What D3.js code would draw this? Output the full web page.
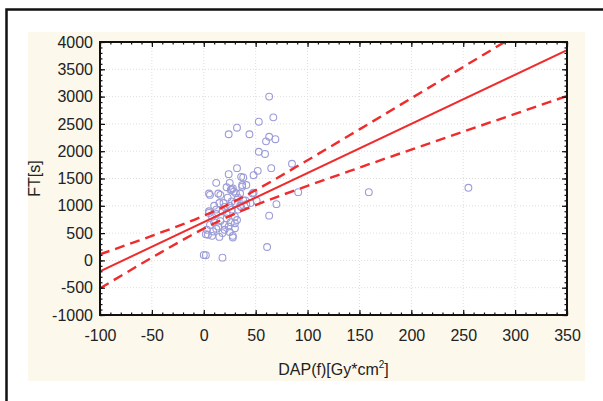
<!DOCTYPE html>
<html><head><meta charset="utf-8">
<script src="https://cdn.jsdelivr.net/npm/d3@7/dist/d3.min.js"></script>
<style>body{margin:0;background:#fff}svg{display:block}</style>
</head><body>
<script>
// ---- data ----
const xTicks = [-100,-50,0,50,100,150,200,250,300,350];
const yTicks = [-1000,-500,0,500,1000,1500,2000,2500,3000,3500,4000];
const xLabel = "DAP(f)[Gy*cm";
const yLabel = "FT[s]";
const pointsX = [63,67,53,32,24,44,63,69,60,53,59,32,65,85,52,48,24,36,38,37,41,12,25,22,27,28,5,14,48,91,159,255,70,41,63,61,2,0,18,28,28,26,35,16,6,19,27,12,5,18,27,33,8,22,32,6,14,24,30,9,18,4,10,15,20,25,30,35,38,22,12,16,26,30,20,10,3,12,20,25,8,15,36,40,45,33,23,30,5,2,29,31,51,47,37];
const pointsY = [3000,2620,2540,2430,2310,2310,2265,2220,2180,1990,1950,1690,1690,1770,1640,1560,1580,1530,1520,1380,1380,1420,1420,1340,1300,1320,1225,1225,1240,1250,1250,1330,1030,1030,820,245,95,100,50,420,450,1290,1225,1200,1200,1050,1080,930,900,900,930,930,800,770,740,650,620,620,590,530,500,470,1000,1050,980,1000,1050,1000,1100,870,850,720,700,800,650,700,560,580,560,520,450,430,980,1100,1050,1150,1150,680,870,480,1260,1230,1090,1225,1350];
const fitX = [-100, 350];
const fitY = [-200, 3850];
const ciX = [-100,-50,0,17,50,100,150,200,250,300,350];
const ciUpper = [112,450,818,963,1287,1835,2400,2970,3543,4116,4690];
const ciLower = [-512,50,582,743,1013,1365,1700,2030,2357,2684,3010];

// ---- drawing ----
const W=603,H=401;
const svg=d3.select("body").append("svg").attr("width",W).attr("height",H);
svg.append("rect").attr("x",6.5).attr("y",9.5).attr("width",700).attr("height",500)
  .attr("fill","none").attr("stroke","#111").attr("stroke-width",2.5);
svg.append("rect").attr("x",28).attr("y",32).attr("width",557).attr("height",349).attr("fill","#fcf8ec");

const L=100,R=567,T=42,B=315;
const x=d3.scaleLinear().domain([-100,350]).range([L,R]);
const y=d3.scaleLinear().domain([-1000,4000]).range([B,T]);

svg.append("rect").attr("x",L).attr("y",T).attr("width",R-L).attr("height",B-T).attr("fill","#fff");

// grid
const grid=svg.append("g").attr("stroke","#dedede").attr("stroke-dasharray","1,2").attr("stroke-width",1);
grid.selectAll(".gx").data(xTicks.slice(1,-1)).join("line")
  .attr("x1",d=>x(d)).attr("x2",d=>x(d)).attr("y1",T).attr("y2",B);
grid.selectAll(".gy").data(yTicks.slice(1,-1)).join("line")
  .attr("y1",d=>y(d)).attr("y2",d=>y(d)).attr("x1",L).attr("x2",R);

// clip
svg.append("clipPath").attr("id","clip").append("rect").attr("x",L).attr("y",T).attr("width",R-L).attr("height",B-T);

// points
svg.append("g").attr("clip-path","url(#clip)").selectAll("circle").data(pointsX.map((d,i)=>[d,pointsY[i]])).join("circle")
  .attr("cx",d=>x(d[0])).attr("cy",d=>y(d[1])).attr("r",3.4)
  .attr("fill","none").attr("stroke","#9c9cd8").attr("stroke-width",1.1);

// lines
const lg=svg.append("g").attr("clip-path","url(#clip)");
const line=d3.line().x(d=>x(d[0])).y(d=>y(d[1]));
const cline=d3.line().x(d=>x(d[0])).y(d=>y(d[1])).curve(d3.curveMonotoneX);
lg.append("path").attr("d",line(fitX.map((d,i)=>[d,fitY[i]])))
  .attr("fill","none").attr("stroke","#ef2b2b").attr("stroke-width",2);
[ciUpper,ciLower].forEach(arr=>{
  lg.append("path").attr("d",cline(ciX.map((d,i)=>[d,arr[i]])))
    .attr("fill","none").attr("stroke","#ef2b2b").attr("stroke-width",2.4).attr("stroke-dasharray","10,6");
});

// axes
const font="'Liberation Sans', Arial, sans-serif";
const fmt=d=>String(d);
function style(g){g.select(".domain").remove();g.selectAll("line").attr("stroke","#111").attr("stroke-width",1.2);
  g.selectAll("text").attr("font-family",font).attr("font-size",16).attr("fill","#222");}
const xMinor=d3.range(-100,351,10), yMinor=d3.range(-1000,4001,100);
svg.append("g").attr("transform",`translate(0,${B})`).call(d3.axisBottom(x).tickValues(xMinor).tickSize(-2.5).tickFormat("")).call(style);
svg.append("g").attr("transform",`translate(0,${T})`).call(d3.axisTop(x).tickValues(xMinor).tickSize(-2.5).tickFormat("")).call(style);
svg.append("g").attr("transform",`translate(${L},0)`).call(d3.axisLeft(y).tickValues(yMinor).tickSize(-2.5).tickFormat("")).call(style);
svg.append("g").attr("transform",`translate(${R},0)`).call(d3.axisRight(y).tickValues(yMinor).tickSize(-2.5).tickFormat("")).call(style);
svg.append("g").attr("transform",`translate(0,${B})`).call(d3.axisBottom(x).tickValues(xTicks).tickSize(-5).tickSizeOuter(0).tickPadding(15).tickFormat(fmt)).call(style);
svg.append("g").attr("transform",`translate(0,${T})`).call(d3.axisTop(x).tickValues(xTicks).tickSize(-5).tickFormat("")).call(style);
svg.append("g").attr("transform",`translate(${L},0)`).call(d3.axisLeft(y).tickValues(yTicks).tickSize(-5).tickSizeOuter(0).tickPadding(7).tickFormat(fmt)).call(style);
svg.append("g").attr("transform",`translate(${R},0)`).call(d3.axisRight(y).tickValues(yTicks).tickSize(-5).tickFormat("")).call(style);

svg.append("rect").attr("x",L).attr("y",T).attr("width",R-L).attr("height",B-T)
  .attr("fill","none").attr("stroke","#111").attr("stroke-width",2);

// labels
const xl=svg.append("text").attr("x",(L+R)/2).attr("y",375).attr("text-anchor","middle")
  .attr("font-family",font).attr("font-size",16).attr("fill","#222");
xl.append("tspan").text(xLabel);
xl.append("tspan").text("2").attr("font-size",10).attr("dx",0).attr("dy",-7);
xl.append("tspan").text("]").attr("dy",7);
svg.append("text").attr("transform",`translate(40,${(T+B)/2}) rotate(-90)`).attr("text-anchor","middle")
  .attr("font-family",font).attr("font-size",16).attr("fill","#222").text(yLabel);
</script>
</body></html>
